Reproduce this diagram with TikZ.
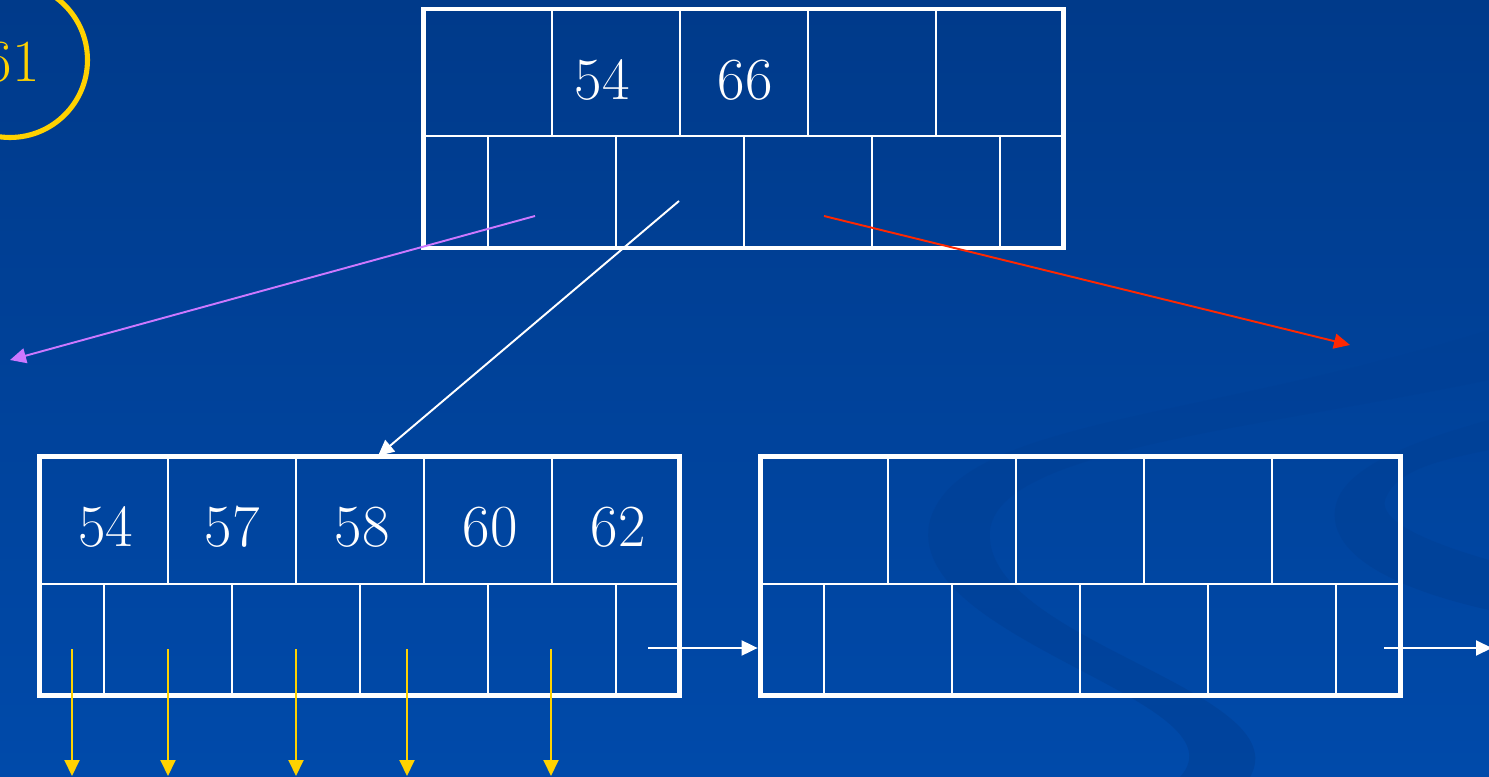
\documentclass[tikz,border=0pt]{standalone}
\usetikzlibrary{arrows.meta}
\definecolor{slidetop}{RGB}{0,58,138}
\definecolor{slidebot}{RGB}{0,74,170}
\definecolor{swirl}{RGB}{0,64,150}
\definecolor{keygold}{RGB}{255,210,0}
\definecolor{linkviolet}{RGB}{204,120,255}
\definecolor{linkred}{RGB}{255,40,0}
\tikzset{
  tnode/.style={draw=white, line width=2.8pt, minimum width=12.82cm, minimum height=4.78cm, inner sep=0pt},
  cell/.style={draw=white, line width=1.1pt},
  key/.style={text=white, font=\fontsize{34}{39}\selectfont, inner sep=0pt},
  tip/.style={-{Triangle[length=0.32cm,width=0.3cm]}, line width=1.1pt},
}
\begin{document}
\begin{tikzpicture}[x=0.02cm,y=-0.02cm]
\shade[top color=slidetop, bottom color=slidebot] (0,0) rectangle (1489,777);
\clip (0,0) rectangle (1489,777);
% faint swirl in the background
\fill[swirl, opacity=0.6] (1489,330) .. controls (1200,420) and (960,420) .. (930,520)
  .. controls (900,640) and (1250,700) .. (1180,777) -- (1250,777)
  .. controls (1300,690) and (980,640) .. (990,530)
  .. controls (1000,450) and (1250,430) .. (1489,380) -- cycle;
\fill[swirl, opacity=0.6] (1489,420) .. controls (1380,450) and (1330,480) .. (1335,520)
  .. controls (1340,560) and (1400,590) .. (1489,610) -- (1489,560)
  .. controls (1420,540) and (1380,520) .. (1385,500)
  .. controls (1395,470) and (1440,460) .. (1489,450) -- cycle;

% search key
\node[circle, draw=keygold, line width=2.9pt, minimum size=3.1cm, inner sep=0pt] (goal) at (10,60) {};
\node[key, text=keygold] (goalkey) at (12,62) {61};

% root node
\node[tnode] (root) at (743.5,128.5) {};
\draw[cell] (423,136) -- (1064,136);
\foreach \x in {552,680,808,936} \draw[cell] (\x,9) -- (\x,136);
\foreach \x in {488,616,744,872,1000} \draw[cell] (\x,136) -- (\x,248);
\node[key] (r54) at (602,80) {54};
\node[key] (r66) at (745,80) {66};

% left leaf
\node[tnode] (leafa) at (359.5,576) {};
\draw[cell] (39,584) -- (680,584);
\foreach \x in {168,296,424,552} \draw[cell] (\x,457) -- (\x,584);
\foreach \x in {104,232,360,488,616} \draw[cell] (\x,584) -- (\x,695);
\node[key] (a54) at (106,527) {54};
\node[key] (a57) at (232,527) {57};
\node[key] (a58) at (362,527) {58};
\node[key] (a60) at (490,527) {60};
\node[key] (a62) at (618,527) {62};

% right leaf
\node[tnode] (leafb) at (1080.5,576) {};
\draw[cell] (760,584) -- (1401,584);
\foreach \x in {888,1016,1144,1272} \draw[cell] (\x,457) -- (\x,584);
\foreach \x in {824,952,1080,1208,1336} \draw[cell] (\x,584) -- (\x,695);

% pointers
\coordinate (p0) at (535,216);
\coordinate (p1) at (679,201);
\coordinate (p2) at (824,216);
\coordinate (lost) at (10,360);
\coordinate (gone) at (1350,345);
\coordinate (hit) at (378,456);
\draw[tip, draw=linkviolet, fill=linkviolet] (p0) -- (lost);
\draw[tip, draw=white, fill=white] (p1) -- (hit);
\draw[tip, draw=linkred, fill=linkred] (p2) -- (gone);

% sibling links
\coordinate (na) at (648,648);
\coordinate (nb) at (1384,648);
\coordinate (nx) at (1492,648);
\draw[tip, draw=white, fill=white] (na) -- (leafb.west |- na);
\draw[tip, draw=white, fill=white] (nb) -- (nx);

% record pointers
\foreach \x [count=\i] in {72,168,296,407,551} {
  \coordinate (rec\i) at (\x,649);
  \coordinate (dat\i) at (\x,776);
  \draw[tip, draw=keygold, fill=keygold] (rec\i) -- (dat\i);
}
\end{tikzpicture}
\end{document}
